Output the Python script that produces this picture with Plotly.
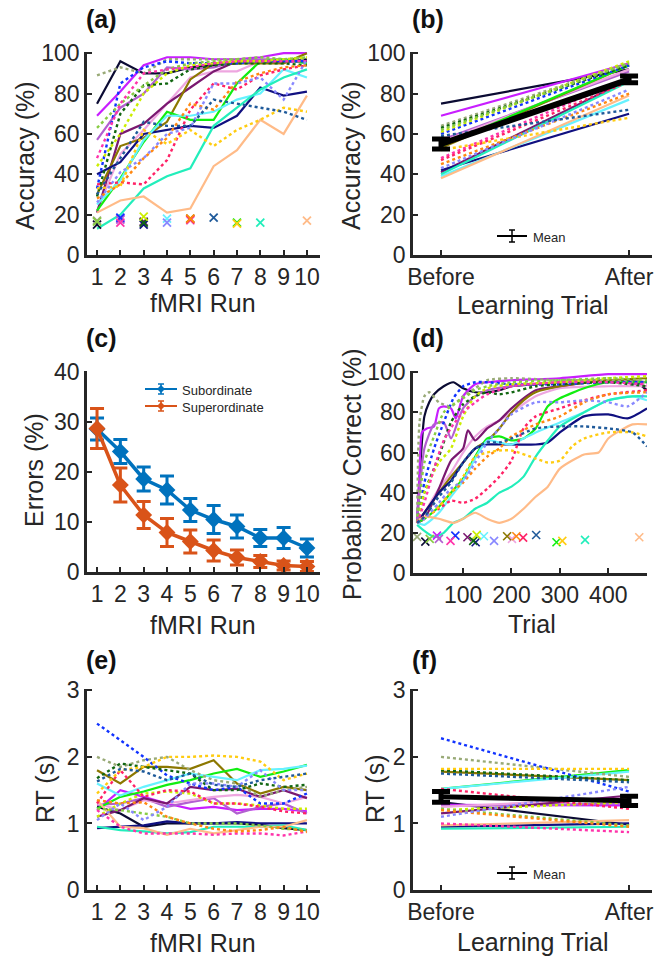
import plotly.graph_objects as go

# ---------------- data ----------------
runs = [1, 2, 3, 4, 5, 6, 7, 8, 9, 10]
subject_colors = ["#0b0b33", "#c81eff", "#b25fd0", "#eea6e0", "#7a1870", "#8c7800",
                  "#11ee11", "#101080", "#66f2ff", "#22eebb", "#ffbb88",
                  "#99aa77", "#1133ff", "#116611", "#ccee00", "#88cc44", "#ff33aa",
                  "#ff2266", "#ff8811", "#ffcc11", "#8888ff", "#1f5a9a"]
subject_dash = ["solid"] * 11 + ["dot"] * 11

acc_runs = [
    [75, 96, 90, 90, 93, 94, 95, 96, 96, 97],
    [69, 81, 94, 98, 98, 97, 97, 98, 100, 100],
    [57, 73, 80, 93, 92, 93, 96, 97, 97, 96],
    [22, 50, 62, 75, 88, 91, 91, 96, 96, 96],
    [21, 60, 65, 75, 83, 91, 96, 96, 96, 96],
    [30, 54, 58, 66, 87, 95, 95, 95, 95, 100],
    [22, 38, 56, 71, 67, 67, 85, 96, 97, 95],
    [40, 46, 60, 62, 64, 63, 69, 83, 79, 81],
    [25, 37, 57, 69, 69, 71, 77, 80, 92, 88],
    [13, 20, 33, 39, 43, 64, 73, 82, 88, 92],
    [21, 27, 29, 21, 23, 44, 52, 67, 60, 79],
    [89, 93, 90, 97, 97, 97, 97, 96, 97, 97],
    [33, 85, 93, 96, 95, 95, 95, 96, 96, 96],
    [29, 70, 84, 85, 92, 94, 95, 95, 95, 94],
    [44, 60, 80, 90, 94, 95, 96, 96, 97, 98],
    [63, 75, 84, 92, 95, 96, 97, 98, 97, 98],
    [48, 75, 90, 92, 93, 95, 96, 96, 96, 96],
    [35, 36, 35, 47, 72, 85, 82, 89, 92, 94],
    [28, 35, 48, 58, 75, 72, 86, 90, 93, 94],
    [33, 34, 62, 55, 62, 54, 62, 67, 73, 71],
    [26, 41, 48, 60, 63, 85, 85, 88, 77, 97],
    [30, 48, 66, 64, 64, 77, 75, 73, 71, 67],
]
mark_run = [1, 2, 2, 5, 3, 5, 7, 3, 4, 8, 10, 1, 2, 3, 3, 1, 2, 5, 5, 7, 4, 6]
mark_acc = [15, 18, 17.5, 17, 16.5, 18, 16, 15, 18, 16, 17, 17, 18.5, 16, 19, 16.5, 16, 17.5, 18, 15.5, 16, 18.5]

acc_before = [75, 69, 57, 56, 41, 53, 54, 42, 39, 40, 38, 64, 60, 63, 61, 62, 48, 47, 45, 52, 43, 59]
acc_after = [92, 95, 91, 92, 87, 94, 94, 70, 77, 86, 79, 95, 94, 94, 96, 95, 88, 86, 80, 68, 82, 72]
acc_mean = [55, 87]
acc_sem = [2.5, 1.7]

sub_err = [28.6, 24.1, 18.6, 16.4, 12.4, 10.5, 9.1, 6.8, 6.8, 4.8]
sub_sem = [2.2, 2.4, 2.4, 2.8, 2.3, 2.8, 2.3, 1.7, 2.1, 1.8]
sup_err = [28.7, 17.4, 11.4, 7.9, 6.1, 4.3, 2.9, 2.1, 1.3, 1.1]
sup_sem = [4.0, 3.4, 2.7, 2.8, 2.3, 2.1, 1.5, 1.2, 0.9, 1.0]

prob_trials = [
    [5, 12, 20, 30, 40, 60, 80, 100, 125, 150, 175, 200, 250, 300, 350, 400, 450, 480],
    [5, 10, 15, 25, 40, 50, 60, 75, 85, 100, 125, 150, 200, 300, 400, 480],
    [5, 10, 20, 40, 60, 75, 90, 100, 125, 150, 200, 300, 400, 480],
    [5, 20, 50, 75, 100, 125, 150, 175, 200, 250, 300, 400, 480],
    [5, 20, 50, 75, 100, 110, 125, 150, 175, 200, 250, 300, 400, 480],
    [5, 20, 50, 75, 100, 125, 150, 175, 200, 225, 250, 300, 400, 480],
    [5, 20, 50, 75, 100, 125, 150, 175, 200, 225, 250, 275, 300, 350, 400, 480],
    [5, 20, 50, 75, 100, 125, 150, 175, 200, 250, 275, 300, 350, 400, 440, 480],
    [5, 20, 50, 75, 100, 125, 150, 175, 200, 225, 250, 300, 350, 400, 450, 480],
    [5, 20, 40, 60, 80, 100, 125, 150, 175, 200, 225, 250, 275, 300, 350, 400, 450, 480],
    [5, 20, 50, 80, 100, 125, 150, 175, 200, 225, 250, 275, 300, 350, 380, 400, 450, 480],
    [5, 10, 20, 30, 50, 75, 100, 125, 150, 200, 300, 400, 480],
    [5, 20, 40, 60, 80, 100, 125, 150, 200, 300, 400, 480],
    [5, 20, 50, 75, 100, 125, 150, 175, 200, 250, 300, 400, 480],
    [5, 20, 50, 75, 100, 125, 150, 200, 300, 400, 480],
    [5, 20, 40, 60, 80, 100, 125, 150, 200, 300, 400, 480],
    [5, 20, 40, 60, 80, 100, 125, 150, 200, 300, 400, 480],
    [5, 20, 50, 75, 100, 125, 150, 175, 200, 225, 250, 300, 350, 400, 480],
    [5, 20, 50, 75, 100, 125, 150, 175, 200, 250, 300, 350, 400, 480],
    [5, 20, 50, 75, 100, 125, 150, 175, 200, 250, 275, 300, 325, 350, 400, 450, 480],
    [5, 20, 50, 75, 100, 125, 150, 175, 200, 250, 300, 350, 400, 440, 480],
    [5, 20, 50, 75, 100, 125, 150, 175, 200, 250, 300, 350, 400, 450, 480],
]
prob_vals = [
    [25, 55, 78, 85, 89, 93, 95, 92, 90, 90, 91, 93, 94, 95, 96, 96, 96, 91],
    [26, 50, 70, 72, 73, 82, 83, 82, 77, 88, 94, 95, 96, 97, 99, 99],
    [25, 40, 62, 74, 75, 67, 76, 82, 88, 91, 93, 95, 96, 93],
    [25, 30, 42, 50, 60, 68, 73, 76, 80, 88, 92, 93, 93],
    [25, 27, 42, 56, 62, 71, 66, 72, 76, 82, 91, 93, 96, 95],
    [25, 30, 40, 48, 55, 62, 66, 72, 80, 86, 90, 93, 96, 97],
    [25, 27, 33, 40, 47, 58, 67, 68, 66, 67, 72, 83, 87, 92, 95, 95],
    [25, 30, 40, 46, 55, 62, 64, 64, 64, 64, 65, 70, 78, 79, 77, 82],
    [25, 24, 30, 38, 46, 57, 66, 65, 64, 67, 70, 75, 80, 86, 88, 86],
    [24, 21, 18, 20, 25, 27, 32, 35, 40, 43, 48, 58, 66, 73, 80, 86, 88, 88],
    [26, 28, 27, 25, 27, 30, 27, 25, 27, 32, 38, 43, 52, 59, 60, 67, 74, 74],
    [25, 75, 88, 90, 85, 83, 88, 92, 96, 97, 96, 96, 95],
    [25, 45, 62, 75, 87, 93, 95, 95, 94, 94, 95, 95],
    [25, 40, 58, 75, 84, 88, 90, 89, 90, 93, 94, 95, 93],
    [25, 40, 55, 62, 78, 88, 92, 94, 95, 97, 98],
    [25, 55, 68, 80, 84, 87, 91, 93, 95, 96, 97, 96],
    [25, 35, 52, 66, 74, 80, 85, 89, 93, 95, 95, 94],
    [25, 28, 32, 36, 35, 37, 42, 48, 56, 72, 78, 82, 86, 89, 91],
    [25, 27, 33, 40, 45, 52, 58, 62, 68, 74, 78, 85, 89, 90],
    [25, 27, 33, 40, 48, 58, 60, 61, 61, 57, 55, 56, 63, 67, 70, 70, 68],
    [25, 27, 35, 42, 46, 55, 65, 72, 79, 85, 85, 86, 85, 83, 90],
    [25, 28, 38, 45, 55, 62, 65, 65, 67, 72, 73, 73, 72, 70, 63],
]
mark_trial = [22, 46, 50, 201, 109, 191, 293, 126, 143, 352, 464, 5, 84, 121, 128, 31, 74, 224, 210, 305, 164, 251]
mark_prob = [15.6, 18.6, 17, 17, 17.8, 18.3, 15.3, 15.3, 18.3, 16.5, 17.8, 18, 18.6, 16, 19, 17, 16, 17.6, 18.3, 16, 16, 18.9]

rt_runs = [
    [1.25, 1.15, 0.95, 1.0, 1.0, 1.0, 1.0, 0.98, 0.93, 0.9],
    [1.2, 1.5, 1.4, 1.3, 1.22, 1.25, 1.2, 1.22, 1.22, 1.18],
    [1.28, 1.3, 1.38, 1.25, 1.32, 1.38, 1.15, 1.25, 1.3, 1.15],
    [1.3, 1.2, 1.35, 1.3, 1.35, 1.4, 1.43, 1.4, 1.3, 1.4],
    [1.1, 1.2, 1.38, 1.3, 1.55, 1.5, 1.52, 1.4, 1.5, 1.38],
    [1.8, 1.6, 1.85, 1.85, 1.82, 1.95, 1.6, 1.45, 1.55, 1.5],
    [1.22, 1.4, 1.48, 1.58, 1.65, 1.75, 1.82, 1.7, 1.78, 1.88],
    [0.93, 0.95, 0.97, 1.03, 1.0, 1.0, 1.02, 1.0, 1.0, 1.0],
    [1.6, 1.42, 1.55, 1.65, 1.75, 1.7, 1.65, 1.8, 1.82, 1.87],
    [0.95, 0.9, 0.88, 0.85, 0.87, 0.95, 0.95, 0.95, 0.97, 0.9],
    [1.35, 0.95, 0.93, 0.83, 0.92, 0.85, 0.9, 0.95, 0.95, 1.05],
    [2.0, 1.85, 1.95, 2.0, 1.8, 1.65, 1.6, 1.4, 1.5, 1.55],
    [2.5, 2.25, 2.0, 1.72, 1.6, 1.5, 1.55, 1.3, 1.3, 1.45],
    [1.68, 1.9, 1.85, 1.8, 1.75, 1.5, 1.5, 1.6, 1.55, 1.58],
    [1.1, 1.3, 1.45, 1.48, 1.45, 1.3, 1.3, 1.27, 1.22, 1.22],
    [1.22, 1.2, 1.15, 1.1, 1.0, 1.0, 1.0, 0.97, 0.92, 0.9],
    [1.2, 0.95, 0.85, 0.85, 0.85, 0.83, 0.85, 0.85, 0.82, 0.88],
    [1.3, 1.8, 1.4, 1.5, 1.48, 1.3, 1.3, 1.25, 1.18, 1.15],
    [1.35, 1.3, 1.32, 1.1, 1.0, 0.92, 0.88, 0.9, 0.95, 0.87],
    [1.45, 1.8, 1.85, 2.0, 2.0, 2.02, 2.0, 1.93, 1.65, 1.75],
    [1.05, 1.3, 1.05, 1.25, 1.6, 1.6, 1.55, 1.8, 1.5, 1.5],
    [1.63, 1.82, 1.78, 1.65, 1.75, 1.58, 1.55, 1.65, 1.7, 1.75],
]
rt_before = [1.32, 1.28, 1.26, 1.25, 1.15, 1.78, 1.52, 0.95, 1.52, 0.92, 0.97, 2.0, 2.28, 1.8, 1.2, 1.22, 1.0, 1.52, 1.2, 1.82, 1.1, 1.75]
rt_after = [0.98, 1.27, 1.3, 1.38, 1.42, 1.65, 1.8, 1.0, 1.78, 0.95, 1.05, 1.7, 1.48, 1.65, 1.32, 0.97, 0.87, 1.22, 0.95, 1.82, 1.55, 1.62]
rt_mean = [1.4, 1.34]
rt_sem = [0.08, 0.07]

phase_ticks = ["Before", "After"]
phase_x = [0, 1]

# ---------------- figure ----------------
W, H = 654, 956
INK = "#262626"
FONT = "Liberation Sans, Arial, Helvetica, sans-serif"
BLUE = "#0072BD"
ORANGE = "#D95319"

fig = go.Figure()


def lw(d):
    return 2.2 if d == "solid" else 2.4


n = len(subject_colors)
# (a)
for i in range(n):
    fig.add_trace(go.Scatter(x=runs, y=acc_runs[i], mode="lines", xaxis="x", yaxis="y",
                             line=dict(color=subject_colors[i], dash=subject_dash[i], width=lw(subject_dash[i]))))
for i in range(n):
    fig.add_trace(go.Scatter(x=[mark_run[i]], y=[mark_acc[i]], mode="markers", xaxis="x", yaxis="y",
                             marker=dict(symbol="x-thin", size=8, line=dict(color=subject_colors[i], width=1.8))))
# (b)
for i in range(n):
    fig.add_trace(go.Scatter(x=phase_x, y=[acc_before[i], acc_after[i]], mode="lines", xaxis="x2", yaxis="y2",
                             line=dict(color=subject_colors[i], dash=subject_dash[i], width=lw(subject_dash[i]))))
fig.add_trace(go.Scatter(x=phase_x, y=acc_mean, mode="lines", xaxis="x2", yaxis="y2",
                         line=dict(color="black", width=6),
                         error_y=dict(type="data", array=acc_sem, color="black", thickness=5, width=9)))
# (c)
fig.add_trace(go.Scatter(x=runs, y=sub_err, mode="lines+markers", xaxis="x3", yaxis="y3",
                         line=dict(color=BLUE, width=3.5), marker=dict(symbol="diamond", size=13, color=BLUE),
                         error_y=dict(type="data", array=sub_sem, color=BLUE, thickness=3, width=7)))
fig.add_trace(go.Scatter(x=runs, y=sup_err, mode="lines+markers", xaxis="x3", yaxis="y3",
                         line=dict(color=ORANGE, width=3.5), marker=dict(symbol="diamond", size=13, color=ORANGE),
                         error_y=dict(type="data", array=sup_sem, color=ORANGE, thickness=3, width=7)))
# (d)
for i in range(n):
    fig.add_trace(go.Scatter(x=prob_trials[i], y=prob_vals[i], mode="lines", xaxis="x4", yaxis="y4",
                             line=dict(color=subject_colors[i], dash=subject_dash[i], width=lw(subject_dash[i]),
                                       shape="spline", smoothing=0.6)))
for i in range(n):
    fig.add_trace(go.Scatter(x=[mark_trial[i]], y=[mark_prob[i]], mode="markers", xaxis="x4", yaxis="y4",
                             marker=dict(symbol="x-thin", size=8, line=dict(color=subject_colors[i], width=1.6))))
# (e)
for i in range(n):
    fig.add_trace(go.Scatter(x=runs, y=rt_runs[i], mode="lines", xaxis="x5", yaxis="y5",
                             line=dict(color=subject_colors[i], dash=subject_dash[i], width=lw(subject_dash[i]))))
# (f)
for i in range(n):
    fig.add_trace(go.Scatter(x=phase_x, y=[rt_before[i], rt_after[i]], mode="lines", xaxis="x6", yaxis="y6",
                             line=dict(color=subject_colors[i], dash=subject_dash[i], width=lw(subject_dash[i]))))
fig.add_trace(go.Scatter(x=phase_x, y=rt_mean, mode="lines", xaxis="x6", yaxis="y6",
                         line=dict(color="black", width=5),
                         error_y=dict(type="data", array=rt_sem, color="black", thickness=5, width=9)))


def fx(px):
    return px / W


def fy(py):
    return 1 - py / H


def px_x(a, b):
    return [fx(a), fx(b)]


def px_y(bottom, top):
    return [fy(bottom), fy(top)]


axis_common = dict(showline=True, linecolor=INK, linewidth=2.6, ticks="inside", ticklen=5, tickwidth=2.4,
                   tickcolor=INK, showgrid=False, zeroline=False, mirror=False, automargin=False,
                   ticklabeloverflow="allow",
                   tickfont=dict(family=FONT, size=23, color=INK))

LA, RA = 87, 320
LB, RB = 413, 652
LD, RD = 413, 647

layout_axes = {
    "xaxis": dict(domain=px_x(LA, RA), range=[0.57, 10.56], tickvals=runs, anchor="y", **axis_common),
    "yaxis": dict(domain=px_y(255, 52), range=[0, 100.6], tickvals=[0, 20, 40, 60, 80, 100], anchor="x", **axis_common),
    "xaxis2": dict(domain=px_x(LB, RB), range=[-0.149, 1.122], tickvals=phase_x, ticktext=phase_ticks, anchor="y2", **axis_common),
    "yaxis2": dict(domain=px_y(255, 52), range=[0, 100.6], tickvals=[0, 20, 40, 60, 80, 100], anchor="x2", **axis_common),
    "xaxis3": dict(domain=px_x(LA, RA), range=[0.57, 10.56], tickvals=runs, anchor="y3", **axis_common),
    "yaxis3": dict(domain=px_y(572, 371), range=[0, 40.2], tickvals=[0, 10, 20, 30, 40], anchor="x3", **axis_common),
    "xaxis4": dict(domain=px_x(LD, RD), range=[-3.5, 480], tickvals=[100, 200, 300, 400], anchor="y4", **axis_common),
    "yaxis4": dict(domain=px_y(573, 371), range=[0, 100.6], tickvals=[0, 20, 40, 60, 80, 100], anchor="x4", **axis_common),
    "xaxis5": dict(domain=px_x(LA, RA), range=[0.57, 10.56], tickvals=runs, anchor="y5", **axis_common),
    "yaxis5": dict(domain=px_y(890, 689), range=[0, 3.02], tickvals=[0, 1, 2, 3], anchor="x5", **axis_common),
    "xaxis6": dict(domain=px_x(LB, RB), range=[-0.149, 1.122], tickvals=phase_x, ticktext=phase_ticks, anchor="y6", **axis_common),
    "yaxis6": dict(domain=px_y(890, 689), range=[0, 3.02], tickvals=[0, 1, 2, 3], anchor="x6", **axis_common),
}

annotations = []


def txt(x, y, s, size=25, bold=False, angle=0, xanchor="center", yanchor="middle"):
    annotations.append(dict(x=fx(x), y=fy(y), xref="paper", yref="paper", text=("<b>%s</b>" % s) if bold else s,
                            showarrow=False, textangle=angle, xanchor=xanchor, yanchor=yanchor,
                            font=dict(family=FONT, size=size, color="#111111" if bold else INK)))


# panel letters
for lab, x, y in [("(a)", 84, 19), ("(b)", 410, 19), ("(c)", 84, 338), ("(d)", 410, 338), ("(e)", 84, 660), ("(f)", 410, 660)]:
    txt(x, y, lab, size=25, bold=True, xanchor="left")

# axis titles
txt(203, 303, "fMRI Run")
txt(532, 305, "Learning Trial")
txt(203, 625, "fMRI Run")
txt(532, 624, "Trial")
txt(203, 943, "fMRI Run")
txt(532, 942, "Learning Trial")
txt(25, 156, "Accuracy (%)", angle=-90)
txt(351, 156, "Accuracy (%)", angle=-90)
txt(34, 470, "Errors (%)", angle=-90)
txt(352, 474, "Probability Correct (%)", angle=-90)
txt(45, 789, "RT (s)", angle=-90)
txt(375, 789, "RT (s)", angle=-90)

# legends (b), (f), (c)
shapes = []


def seg(x0, y0, x1, y1, color, width):
    shapes.append(dict(type="line", xref="paper", yref="paper", x0=fx(x0), x1=fx(x1), y0=fy(y0), y1=fy(y1),
                       line=dict(color=color, width=width)))


def legend_errbar(xl, xr, y, color, half=6):
    xm = (xl + xr) / 2
    seg(xl, y, xr, y, color, 2)
    seg(xm, y - half, xm, y + half, color, 1.5)
    seg(xm - 3, y - half, xm + 3, y - half, color, 1.5)
    seg(xm - 3, y + half, xm + 3, y + half, color, 1.5)


legend_errbar(497, 527, 236, "black")
txt(531, 237, "Mean", size=13, xanchor="left")
legend_errbar(497, 527, 873, "black")
txt(531, 874, "Mean", size=13, xanchor="left")

for y, color, label in [(389, BLUE, "Subordinate"), (406, ORANGE, "Superordinate")]:
    legend_errbar(145, 177, y, color, half=5)
    shapes.append(dict(type="path", xref="paper", yref="paper",
                       path="M %f,%f L %f,%f L %f,%f L %f,%f Z" % (fx(157), fy(y), fx(161), fy(y - 4),
                                                                  fx(165), fy(y), fx(161), fy(y + 4)),
                       fillcolor=color, line=dict(color=color, width=0)))
    txt(180, y + 1, label, size=13, xanchor="left")

fig.update_layout(width=W, height=H, margin=dict(l=0, r=0, t=0, b=0, pad=0), paper_bgcolor="white", plot_bgcolor="white",
                  showlegend=False, annotations=annotations, shapes=shapes, **layout_axes)

# remove the default 8px page margin so the 654x956 figure fills the window exactly
fig.write_html("out.html", config={"displayModeBar": False},
               post_script="document.body.style.margin='0';document.body.style.overflow='hidden';")
